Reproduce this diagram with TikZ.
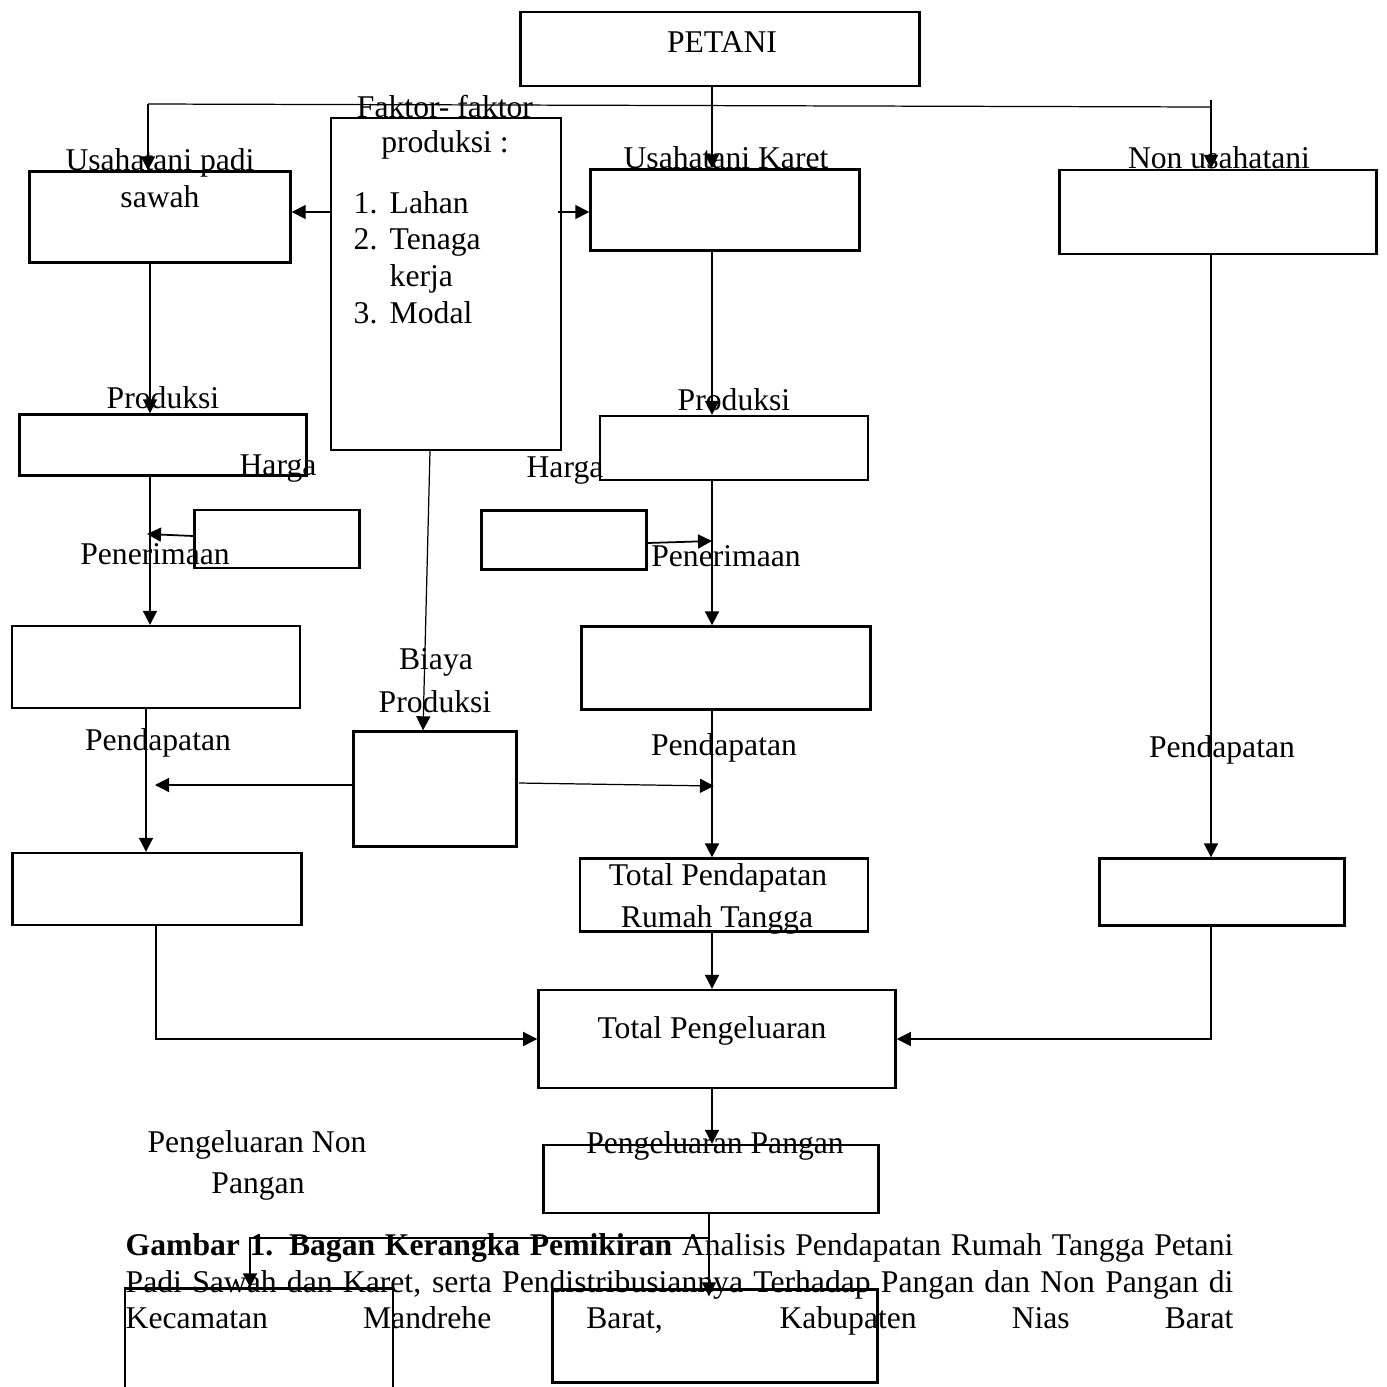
\documentclass[tikz,border=0pt]{standalone}
\usepackage{fontspec}
\setmainfont{Liberation Serif}
\usetikzlibrary{arrows.meta, positioning, calc}

\begin{document}
\begin{tikzpicture}[
    x=0.01cm, y=-0.01cm,
    font=\fontsize{9}{10.5}\selectfont,
    box/.style={rectangle, draw, line width=0.65pt, inner sep=0pt},
    lbl/.style={anchor=base, inner sep=0pt},
    arrow/.style={-{Triangle[length=1.4mm, width=1.4mm]}, line width=0.5pt},
    thinarrow/.style={-{Triangle[length=1.4mm, width=1.4mm]}, line width=0.35pt},
    link/.style={line width=0.35pt}
]
\useasboundingbox (0,0) rectangle (1387,1387);
\clip (0,0) rectangle (1387,1387);

% Boxes
\node[box, minimum width=3.99cm, minimum height=0.74cm] (petani) at (720,49) {};
\node[box, minimum width=2.61cm, minimum height=0.91cm] (padi) at (160,217) {};
\node[box, minimum width=2.30cm, minimum height=3.32cm] (faktor) at (446,284) {};
\node[box, minimum width=2.69cm, minimum height=0.81cm] (karet) at (725,210) {};
\node[box, minimum width=3.17cm, minimum height=0.84cm] (nonusaha) at (1218,212) {};
\node[box, minimum width=2.87cm, minimum height=0.61cm] (prodL) at (163,445) {};
\node[box, minimum width=1.65cm, minimum height=0.58cm] (hargaL) at (277,539) {};
\node[box, minimum width=2.88cm, minimum height=0.82cm] (terimaL) at (156,667) {};
\node[box, minimum width=2.89cm, minimum height=0.72cm] (dapatL) at (157,889) {};
\node[box, minimum width=1.63cm, minimum height=1.15cm] (biaya) at (435,789) {};
\node[box, minimum width=2.68cm, minimum height=0.64cm] (prodR) at (734,448) {};
\node[box, minimum width=1.65cm, minimum height=0.59cm] (hargaR) at (564,540) {};
\node[box, minimum width=2.89cm, minimum height=0.83cm] (terimaR) at (726,668) {};
\node[box, minimum width=2.88cm, minimum height=0.73cm] (total) at (724,895) {};
\node[box, minimum width=2.45cm, minimum height=0.67cm] (dapatN) at (1222,892) {};
\node[box, minimum width=3.57cm, minimum height=0.98cm] (keluar) at (717,1039) {};
\node[box, minimum width=3.35cm, minimum height=0.68cm] (pangan) at (711,1179) {};
\node[box, minimum width=2.68cm, minimum height=1.31cm] (nonpangan) at (259,1354) {};
\node[box, minimum width=3.25cm, minimum height=0.93cm] (panganB) at (715,1336) {};

% Labels
\node[lbl] (tPetani) at (722,52) {PETANI};
\node[lbl] (tPadi1) at (160,170) {Usahatani padi};
\node[lbl] (tPadi2) at (160,207) {sawah};
\node[lbl] (tFaktor1) at (445,117) {Faktor- faktor};
\node[lbl] (tFaktor2) at (445,152) {produksi :};
\node[lbl, anchor=base west] (tList) at (353,213)
  {\begin{tabular}[t]{@{}p{0.36cm}@{}l@{}}1.&Lahan\\2.&Tenaga\\&kerja\\3.&Modal\end{tabular}};
\node[lbl] (tKaret) at (726,168) {Usahatani Karet};
\node[lbl] (tNon) at (1219,168) {Non usahatani};
\node[lbl] (tProdL) at (163,408) {Produksi};
\node[lbl] (tHargaL) at (278,475) {Harga};
\node[lbl] (tTerimaL) at (155,564) {Penerimaan};
\node[lbl] (tDapatL) at (158,750) {Pendapatan};
\node[lbl] (tBiaya1) at (436,669) {Biaya};
\node[lbl] (tBiaya2) at (435,712) {Produksi};
\node[lbl] (tProdR) at (734,410) {Produksi};
\node[lbl] (tHargaR) at (565,477) {Harga};
\node[lbl] (tTerimaR) at (726,566) {Penerimaan};
\node[lbl] (tDapatR) at (724,755) {Pendapatan};
\node[lbl] (tDapatN) at (1222,757) {Pendapatan};
\node[lbl] (tTotal1) at (718,885) {Total Pendapatan};
\node[lbl] (tTotal2) at (717,927) {Rumah Tangga};
\node[lbl] (tKeluar) at (712,1038) {Total Pengeluaran};
\node[lbl] (tPangan) at (715,1153) {Pengeluaran Pangan};
\node[lbl] (tNonP1) at (257,1152) {Pengeluaran Non};
\node[lbl] (tNonP2) at (258,1193) {Pangan};

% Caption
\node[lbl, anchor=base west] (cap1) at (125,1255)
  {\makebox[11.07cm][s]{\textbf{Gambar 1. Bagan Kerangka Pemikiran} Analisis Pendapatan Rumah Tangga Petani}};
\node[lbl, anchor=base west] (cap2) at (125,1292)
  {\makebox[11.07cm][s]{Padi Sawah dan Karet, serta Pendistribusiannya Terhadap Pangan dan Non Pangan di}};
\node[lbl, anchor=base west] (cap3) at (125,1328)
  {\makebox[11.07cm][s]{Kecamatan Mandrehe Barat, Kabupaten Nias Barat}};

% Junctions
\coordinate (splitL) at (148,104);
\coordinate (splitR) at (1211,107);
\coordinate (tickR) at (1211,100);
\coordinate (colL) at (150,0);
\coordinate (colM) at (712,0);
\coordinate (hitL) at (147,534);
\coordinate (hitR) at (712,541);
\coordinate (costL) at (155,785);
\coordinate (costR) at (714,786);
\coordinate (splitB) at (709,1238);

% From PETANI
\draw[link] (splitL) -- (splitR);
\draw[arrow] (splitL) -- (padi.north -| splitL);
\draw[arrow] (petani.south -| colM) -- (karet.north -| colM);
\draw[arrow] (tickR) -- (nonusaha.north -| tickR);

% Faktor produksi
\draw[arrow] (faktor.west |- 0,212) -- (padi.east |- 0,212);
\draw[arrow] (558,212) -- (karet.west |- 0,212);
\draw[thinarrow] (faktor.south -| 430,0) -- (biaya.north -| 423,0);

% Padi sawah column
\draw[arrow] (padi.south -| colL) -- (prodL.north -| colL);
\draw[arrow] (prodL.south -| colL) -- (terimaL.north -| colL);
\draw[arrow] (hargaL.west |- 0,536) -- (hitL);
\draw[arrow] (terimaL.south -| 146,0) -- (dapatL.north -| 146,0);
\draw[thinarrow] (biaya.west |- costL) -- (costL);
\draw[thinarrow] (dapatL.south -| 156,0) |- (keluar.west);

% Karet column
\draw[arrow] (karet.south -| colM) -- (prodR.north -| colM);
\draw[arrow] (hargaR.east |- 0,543) -- (hitR);
\draw[arrow] (prodR.south -| colM) -- (terimaR.north -| colM);
\draw[arrow] (terimaR.south -| colM) -- (total.north -| colM);
\draw[thinarrow] (519,783) -- (costR);
\draw[arrow] (total.south -| colM) -- (keluar.north -| colM);

% Non usahatani column
\draw[arrow] (nonusaha.south -| tickR) -- (dapatN.north -| tickR);
\draw[thinarrow] (dapatN.south -| tickR) |- (keluar.east);

% Pengeluaran
\draw[arrow] (keluar.south -| colM) -- (pangan.north -| colM);
\draw[thinarrow] (pangan.south -| splitB) -- ($(panganB.north -| splitB)+(0,8)$);
\draw[arrow] (splitB) -| (nonpangan.north -| 250,0);

\end{tikzpicture}
\end{document}
